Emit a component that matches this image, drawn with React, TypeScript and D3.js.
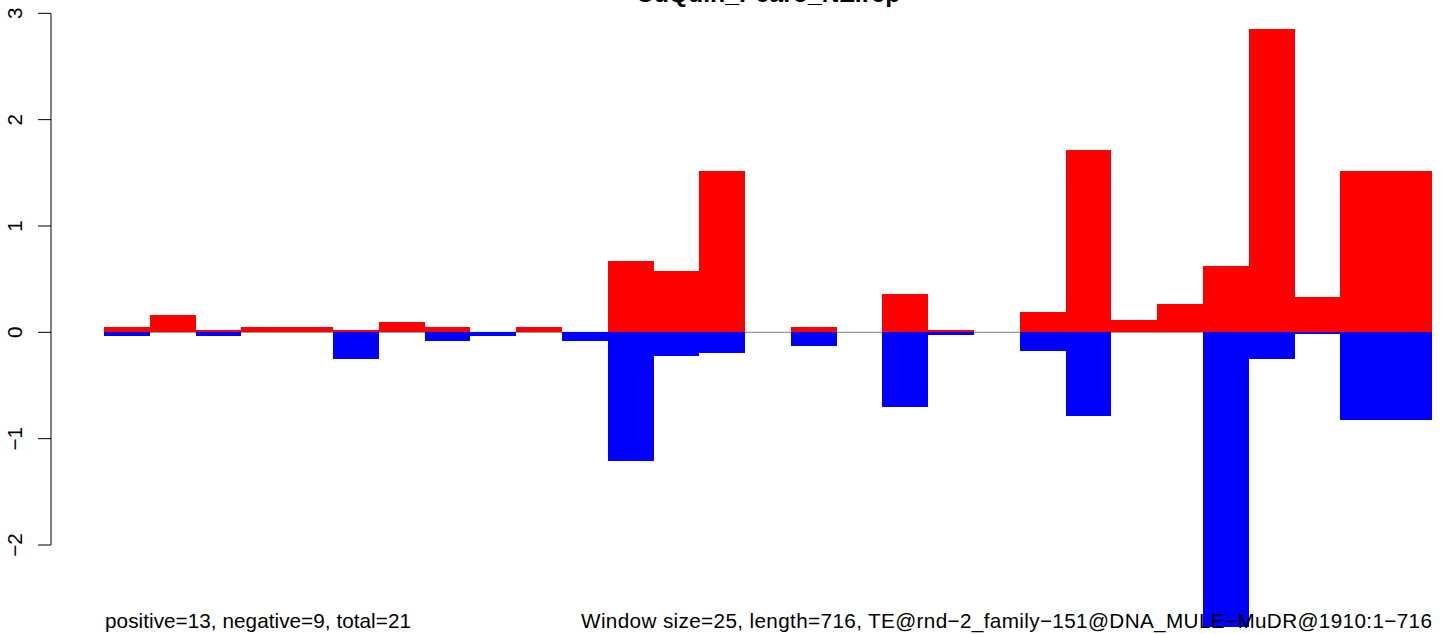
import React from "react";
import * as d3 from "d3";

const title = "CuQuin_Pearo_NZ.rep";
const positives = [0.05, 0.16, 0.02, 0.05, 0.05, 0.02, 0.1, 0.05, 0, 0.05, 0, 0.67, 0.575, 1.52, 0, 0.05, 0, 0.36, 0.02, 0, 0.19, 1.71, 0.12, 0.27, 0.625, 2.85, 0.33, 1.52, 1.52];
const negatives = [-0.03, 0, -0.03, 0, 0, -0.25, 0, -0.08, -0.03, 0, -0.08, -1.21, -0.225, -0.195, 0, -0.13, 0, -0.7, -0.025, 0, -0.175, -0.79, 0, 0, -2.77, -0.247, -0.02, -0.82, -0.82];
const yTicks = [-2, -1, 0, 1, 2, 3];
const leftNote = "positive=13, negative=9, total=21";
const rightNote = "Window size=25, length=716, TE@rnd\u22122_family\u2212151@DNA_MULE\u2212MuDR@1910:1\u2212716";

const W = 1444;
const H = 634;
const FONT = "'Liberation Sans', Arial, Helvetica, sans-serif";

export default function App() {
  const n = positives.length;
  const x = d3.scaleLinear().domain([0, n]).range([104, 1432]);
  const y = d3.scaleLinear().domain([-2, 3]).range([545, 13.3]);
  const axisX = 51;
  const fmt = (v: number) => (v < 0 ? "\u2212" + Math.abs(v) : String(v));

  return (
    <svg
      width={W}
      height={H}
      style={{ position: "absolute", left: 0, top: 0, display: "block", background: "#fff" }}
    >
      <rect x={0} y={0} width={W} height={H} fill="#fff" />
      <line x1={x(0)} x2={x(n)} y1={y(0)} y2={y(0)} stroke="#999" strokeWidth={1.2} />
      {positives.map((v, i) =>
        v > 0 ? (
          <rect key={"p" + i} x={x(i)} width={x(i + 1) - x(i)} y={y(v)} height={y(0) - y(v)} fill="#ff0000" shapeRendering="crispEdges" />
        ) : null
      )}
      {negatives.map((v, i) =>
        v < 0 ? (
          <rect key={"n" + i} x={x(i)} width={x(i + 1) - x(i)} y={y(0)} height={y(v) - y(0)} fill="#0000ff" shapeRendering="crispEdges" />
        ) : null
      )}
      <line x1={axisX} x2={axisX} y1={y(yTicks[0])} y2={y(yTicks[yTicks.length - 1])} stroke="#000" strokeWidth={1} />
      {yTicks.map((t) => (
        <g key={t}>
          <line x1={axisX - 13} x2={axisX} y1={y(t)} y2={y(t)} stroke="#000" strokeWidth={1} />
          <text
            transform={`translate(21.5,${y(t)}) rotate(-90)`}
            textAnchor="middle"
            fontFamily={FONT}
            fontSize={20.7}
            fill="#000"
          >
            {fmt(t)}
          </text>
        </g>
      ))}
      <text x={768} y={2} textAnchor="middle" fontFamily={FONT} fontWeight="bold" fontSize={24.8} fill="#000">
        {title}
      </text>
      <text x={105} y={628} fontFamily={FONT} fontSize={20.7} fill="#000" textLength={306} lengthAdjust="spacing">
        {leftNote}
      </text>
      <text x={581} y={628} fontFamily={FONT} fontSize={20.7} fill="#000" textLength={851} lengthAdjust="spacing">
        {rightNote}
      </text>
    </svg>
  );
}
